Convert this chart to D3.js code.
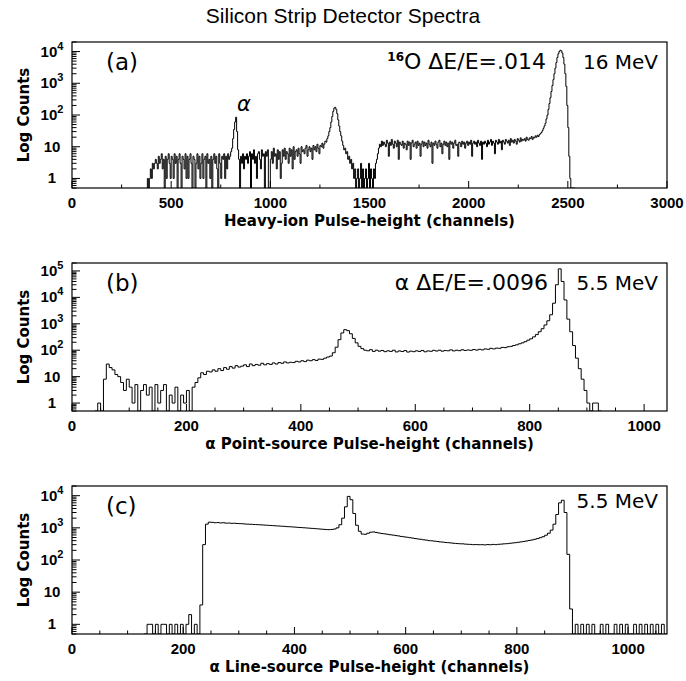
<!DOCTYPE html>
<html><head><meta charset="utf-8">
<script src="https://cdn.jsdelivr.net/npm/d3@7"></script>
<style>
body{margin:0;background:#fff;}
text{font-family:"Liberation Sans",Arial,sans-serif;fill:#000;}
.ann{font-family:"DejaVu Sans",sans-serif;}
.axt{font-family:"DejaVu Sans",sans-serif;font-weight:bold;}
</style></head>
<body><svg id="chart" width="686" height="681"></svg>
<script>
// ---------------- DATA ----------------
const title = "Silicon Strip Detector Spectra";
const yAxisLabel = "Log Counts";

// Panel (a): heavy-ion spectrum, 5-channel bins starting at channel 380
const aStart = 380, aBin = 5;
const aCounts = [
  1,0,1,2,1,3,2,3,4,3,2,5,3,4,6,2,4,0,5,1,
  4,6,3,1,5,4,1,6,3,5,0,4,6,3,0,5,4,2,6,1,
  5,1,4,6,3,0,5,4,0,3,6,2,5,1,3,6,1,4,5,0,
  6,3,4,1,5,0,4,6,3,5,2,0,6,3,1,5,4,6,1,5,
  2,6,4,5,7,9,18,35,60,85,30,8,4,0,5,3,6,2,5,4,
  6,3,5,7,0,6,4,8,3,5,1,6,7,4,2,8,5,6,0,7,
  5,8,0,0,4,7,3,9,5,6,2,8,4,7,1,3,8,5,9,4,
  7,6,3,9,5,8,2,10,4,7,8,5,9,6,3,10,7,8,6,9,
  11,5,8,10,7,9,4,11,8,10,7,12,9,6,11,10,13,9,12,15,
  14,18,22,30,40,60,90,130,165,175,150,110,70,45,30,22,15,11,8,9,
  6,7,4,5,3,4,2,3,1,2,0,1,2,0,1,3,0,2,0,1,
  2,0,1,3,0,2,1,0,2,1,3,4,6,9,12,10,15,11,14,12,
  10,16,13,5,14,11,17,12,9,15,13,10,16,4,14,12,11,15,9,13,
  12,8,15,11,14,4,13,16,10,12,14,9,15,11,13,5,12,15,10,14,
  11,13,9,16,12,10,14,3,13,11,15,12,9,14,16,10,13,6,12,15,
  11,14,10,13,4,15,12,14,9,13,16,11,12,5,14,13,10,15,12,14,
  9,13,15,11,14,12,16,5,13,15,12,14,10,16,13,11,15,4,14,12,
  15,13,10,16,12,14,17,11,15,13,6,16,14,12,17,13,15,8,16,14,
  12,17,15,13,16,11,18,14,16,13,17,15,12,18,16,14,19,15,17,16,
  18,15,20,17,16,19,18,21,17,20,19,22,20,23,21,24,26,28,32,38,
  45,55,75,100,150,230,350,550,850,1300,2000,3000,4500,6500,8500,10000,11000,10500,9000,6500,
  4000,2000,800,200,40,5,1,0,0,0,0];
const aXMax = 3000, aYMin = 0.5, aYMax = 2e4;
const aXMajor = [0,500,1000,1500,2000,2500,3000];
const aXMinorStep = 250;
const aXLabel = "Heavy-ion Pulse-height (channels)";

// Panel (b): alpha point source, 5-channel bins starting at channel 40
const bStart = 40, bBin = 5;
const bCounts = [
  0,1,0,8,30,22,18,12,10,6,3,8,4,1,5,0,3,5,2,4,
  0,5,1,3,5,0,2,1,4,0,2,1,3,0,4,6,9,14,12,16,
  15,18,16,20,17,22,19,24,21,26,23,25,28,24,30,26,29,27,32,28,
  31,29,33,30,34,32,36,33,35,34,38,36,40,37,42,40,44,41,46,45,
  50,55,60,80,130,250,450,600,550,420,280,190,140,115,100,95,105,90,100,92,
  98,88,95,90,100,86,94,89,97,85,92,88,95,90,98,87,94,91,99,93,
  100,92,97,95,103,94,100,96,104,98,102,99,106,101,108,103,112,108,118,112,
  120,118,128,125,135,140,150,160,175,190,210,240,270,320,390,500,650,900,1300,2200,
  6000,30000,120000,40000,8000,1500,500,150,50,20,8,3,1,0,1,1,0];
const bXMax = 1040, bYMin = 0.5, bYMax = 2e5;
const bXMajor = [0,200,400,600,800,1000];
const bXMinorStep = 50;
const bXLabel = "\u03b1 Point-source Pulse-height (channels)";

// Panel (c): alpha line source, 5-channel bins starting at channel 130
const cStart = 130, cBin = 5;
const cCounts = [
  0,1,1,0,1,0,1,1,0,1,0,1,0,1,0,1,2,0,1,0,
  4,300,1300,1500,1480,1440,1460,1420,1440,1400,1410,1380,1390,1360,1350,1340,1310,1300,1290,1270,
  1260,1245,1230,1215,1200,1185,1170,1150,1140,1125,1110,1090,1080,1065,1050,1030,1020,1005,990,975,
  960,945,930,915,900,885,880,890,920,1000,1250,2000,4500,9500,7500,2800,1200,780,640,630,
  680,730,745,720,690,665,650,630,610,595,575,560,540,525,510,495,480,465,450,440,
  425,415,400,395,385,375,365,360,350,345,338,330,325,320,318,312,308,305,300,302,
  298,300,295,302,298,305,300,308,312,318,322,330,338,345,355,365,378,390,405,420,
  440,465,495,530,590,680,850,1300,2600,6000,7200,3000,150,3,0,1,0,1,0,1,
  0,1,0,0,1,0,1,0,0,1,0,1,0,1,0,0,1,0,1,0,
  1,0,1,0,1,0,1,0];
const cXMax = 1070, cYMin = 0.5, cYMax = 2e4;
const cXMajor = [0,200,400,600,800,1000];
const cXMinorStep = 50;
const cXLabel = "\u03b1 Line-source Pulse-height (channels)";

// ---------------- LAYOUT ----------------
const svg = d3.select("#chart");
const L = 72, R = 667;
const panels = [
  {id:"a", top:42, bottom:188, start:aStart, bin:aBin, counts:aCounts, xMax:aXMax, yMin:aYMin, yMax:aYMax,
   xMajor:aXMajor, minorStep:aXMinorStep, xLabel:aXLabel},
  {id:"b", top:263, bottom:411, start:bStart, bin:bBin, counts:bCounts, xMax:bXMax, yMin:bYMin, yMax:bYMax,
   xMajor:bXMajor, minorStep:bXMinorStep, xLabel:bXLabel},
  {id:"c", top:486, bottom:634, start:cStart, bin:cBin, counts:cCounts, xMax:cXMax, yMin:cYMin, yMax:cYMax,
   xMajor:cXMajor, minorStep:cXMinorStep, xLabel:cXLabel}
];

svg.append("text").attr("x",343).attr("y",23).attr("text-anchor","middle")
  .style("font-size","21px").text(title);

panels.forEach((p)=>{
  const g = svg.append("g");
  const x = d3.scaleLinear().domain([0,p.xMax]).range([L,R]);
  const y = d3.scaleLog().domain([p.yMin,p.yMax]).range([p.bottom,p.top]);
  const clipId = "clip"+p.id;
  svg.append("clipPath").attr("id",clipId).append("rect")
    .attr("x",L).attr("y",p.top).attr("width",R-L).attr("height",p.bottom-p.top);

  // histogram step line
  const pts = [[p.start, p.yMin]];
  p.counts.forEach((c,i)=>{
    const v = Math.max(c, p.yMin);
    const x0 = p.start + i*p.bin;
    pts.push([x0, v]); pts.push([x0+p.bin, v]);
  });
  pts.push([p.start + p.counts.length*p.bin, p.yMin]);
  const line = d3.line().x(d=>x(d[0])).y(d=>y(d[1]));
  g.append("path").attr("d",line(pts)).attr("fill","none").attr("stroke","#000")
    .attr("stroke-width",1).attr("clip-path",`url(#${clipId})`);

  // x ticks (inside, from bottom)
  const minor = d3.range(0, p.xMax+0.001, p.minorStep);
  minor.forEach(v=>{
    const major = p.xMajor.includes(v);
    g.append("line").attr("x1",x(v)).attr("x2",x(v)).attr("y1",p.bottom)
      .attr("y2",p.bottom-(major?7:3.5)).attr("stroke","#000").attr("stroke-width",1);
  });
  p.xMajor.forEach(v=>{
    g.append("text").attr("x",x(v)).attr("y",p.bottom+20).attr("text-anchor","middle")
      .style("font-size","15px").style("font-weight","bold").text(v);
  });

  // y ticks (log)
  const lo = Math.floor(Math.log10(p.yMin)), hi = Math.ceil(Math.log10(p.yMax));
  for(let e=lo;e<=hi;e++){
    for(let m=1;m<=9;m++){
      const v = m*Math.pow(10,e);
      if(v<p.yMin||v>p.yMax) continue;
      g.append("line").attr("x1",L).attr("x2",L+(m===1?8:4.5)).attr("y1",y(v)).attr("y2",y(v))
        .attr("stroke","#000").attr("stroke-width",1);
      if(m===1){
        const t = g.append("text").attr("x",52).attr("y",y(v)+5).attr("text-anchor","middle")
          .style("font-size","15px").style("font-weight","bold");
        if(e===0) t.text("1");
        else if(e===1) t.text("10");
        else { t.append("tspan").text("10");
               t.append("tspan").attr("dy",-7).style("font-size","11px").text(e); }
      }
    }
  }

  // frame
  g.append("rect").attr("x",L).attr("y",p.top).attr("width",R-L).attr("height",p.bottom-p.top)
    .attr("fill","none").attr("stroke","#000").attr("stroke-width",1.2);

  // axis titles
  g.append("text").attr("class","axt").attr("x",(L+R)/2).attr("y",p.bottom+38).attr("text-anchor","middle")
    .style("font-size","15px").text(p.xLabel);
  g.append("text").attr("class","axt").attr("transform",`translate(29,${(p.top+p.bottom)/2}) rotate(-90)`)
    .attr("text-anchor","middle").style("font-size","15px").text(yAxisLabel);

  // panel letter
  g.append("text").attr("class","ann").attr("x",106).attr("y",p.top+28).style("font-size","23px").text(`(${p.id})`);
});

// annotations
const ann = svg.append("g").attr("class","ann").style("font-size","22px");
// (a)
const t1 = ann.append("text").attr("class","ann").attr("x",546).attr("y",69).attr("text-anchor","end");
t1.append("tspan").attr("dy",-8).style("font-size","12px").style("font-weight","bold").text("16");
t1.append("tspan").attr("dy",8).text("O \u0394E/E=.014");
ann.append("text").attr("class","ann").attr("x",658).attr("y",69).attr("text-anchor","end").style("font-size","20px").text("16 MeV");
ann.append("text").attr("class","ann").attr("x",244).attr("y",111).attr("text-anchor","middle").style("font-style","italic").style("font-size","21px").text("\u03b1");
// (b)
ann.append("text").attr("class","ann").attr("x",548).attr("y",290).attr("text-anchor","end").text("\u03b1 \u0394E/E=.0096");
ann.append("text").attr("class","ann").attr("x",658).attr("y",290).attr("text-anchor","end").style("font-size","20px").text("5.5 MeV");
// (c)
ann.append("text").attr("class","ann").attr("x",658).attr("y",508).attr("text-anchor","end").style("font-size","20px").text("5.5 MeV");
</script></body></html>
